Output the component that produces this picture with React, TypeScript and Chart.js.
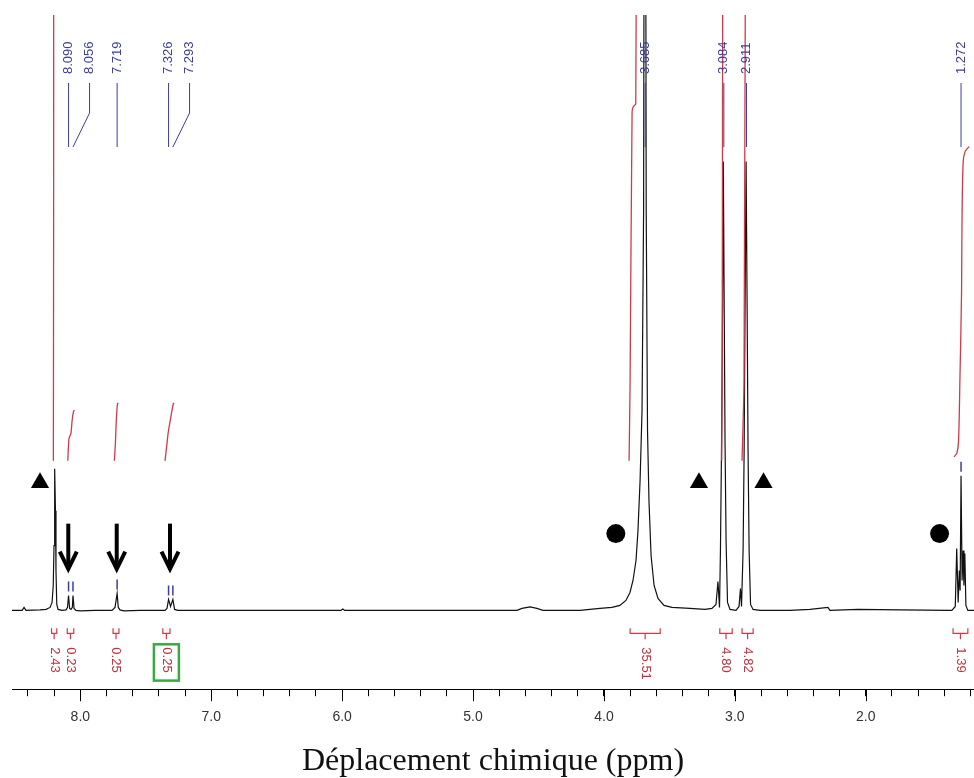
import React, { useEffect, useRef } from 'react';
import { Chart, registerables } from 'chart.js';

Chart.register(...registerables);

// ---------- DATA ----------
// 1H NMR trace: chemical shift (ppm) and intensity (a.u.)
const spectrumPpm = [
  8.522, 8.445, 8.43, 8.415, 8.308, 8.262, 8.231, 8.216, 8.207, 8.201, 8.196, 8.19, 8.186, 8.18, 8.17, 8.14,
  8.109, 8.098, 8.09, 8.082, 8.071, 8.061, 8.056, 8.048, 8.033, 8.002, 7.888, 7.758, 7.735, 7.719, 7.71, 7.697,
  7.666, 7.544, 7.353, 7.338, 7.326, 7.311, 7.293, 7.28, 7.254, 7.009, 6.01, 5.995, 5.98, 5.558, 4.664, 4.626,
  4.565, 4.512, 4.466, 4.183, 4.107, 4.03, 3.939, 3.878, 3.832, 3.801, 3.778, 3.755, 3.74, 3.724, 3.709, 3.697,
  3.687, 3.677, 3.667, 3.656, 3.64, 3.617, 3.587, 3.541, 3.48, 3.343, 3.228, 3.175, 3.144, 3.129, 3.117, 3.11,
  3.102, 3.094, 3.088, 3.081, 3.075, 3.067, 3.056, 3.037, 2.991, 2.968, 2.957, 2.949, 2.937, 2.929, 2.922, 2.914,
  2.906, 2.899, 2.891, 2.88, 2.861, 2.808, 2.579, 2.426, 2.289, 2.273, 2.059, 1.74, 1.358, 1.342, 1.316, 1.305,
  1.294, 1.285, 1.279, 1.272, 1.264, 1.256, 1.25, 1.243, 1.235, 1.22, 1.173,
];
const spectrumIntensity = [
  0, 0, 3, 0, 0.5, 1, 3, 8, 25, 65, 142, 100, 40, 6, 1, 0,
  0.5, 3, 15, 2, 1, 3, 15, 2, 0, -0.5, 0, 0, 3, 17, 3, 0.5,
  -0.5, 0, 0, 2, 11, 4, 11, 1, 0, 0, 0, 1.5, 0, 0, 0, 2,
  3.5, 2, 0, 0, 1, 2, 3, 5, 10, 18, 30, 50, 80, 130, 200, 400,
  1200, 400, 180, 110, 55, 25, 12, 5, 3, 2, 1, 2, 6, 29, 3, 60,
  160, 300, 450, 300, 170, 70, 8, 1, 0, 4, 22, 4, 60, 160, 300, 450,
  300, 160, 60, 6, 1, 0, 0, 1, 3, 0, 1, 0.5, 0, 0, 4, 62,
  8, 40, 20, 135, 30, 60, 25, 57, 5, 0, 0,
];

// Picked peaks
const peakPpm = [8.09, 8.056, 7.719, 7.326, 7.293, 3.685, 3.084, 2.911, 1.272];
const peakLabels = ['8.090', '8.056', '7.719', '7.326', '7.293', '3.685', '3.084', '2.911', '1.272'];
const peakPickIntensity = [15, 15, 17, 11, 11, 0, 0, 0, 135];

// Integrals
const integralFrom = [8.22, 8.1, 7.75, 7.37, 3.8, 3.115, 2.945, 1.333];
const integralTo = [8.18, 8.05, 7.705, 7.315, 3.57, 3.02, 2.86, 1.22];
const integralValues = ['2.43', '0.23', '0.25', '0.25', '35.51', '4.80', '4.82', '1.39'];
const highlightedIntegral = 3;

// Integral curves (ppm, height)
const integralCurvePpm = [
  [8.206, 8.204, 8.203],
  [8.096, 8.087, 8.079, 8.071, 8.063, 8.053, 8.046],
  [7.74, 7.732, 7.727, 7.721, 7.716, 7.711],
  [7.353, 7.34, 7.328, 7.315, 7.302, 7.29, 7.284],
  [3.808, 3.8, 3.785, 3.776, 3.757, 3.748],
  [3.1, 3.097, 3.09],
  [2.945, 2.93, 2.915],
  [1.326, 1.303, 1.291, 1.28, 1.268, 1.265, 1.256, 1.241, 1.211],
];
const integralCurveHeight = [
  [150, 400, 900],
  [150, 172, 175, 178, 190, 199, 201],
  [150, 168, 185, 200, 207, 208],
  [150, 165, 179, 189, 199, 207, 208],
  [150, 232, 500, 505, 508, 900],
  [150, 232, 900],
  [150, 232, 900],
  [154, 158, 170, 235, 320, 385, 449, 460, 465],
];

// Symbols placed on the spectrum
const trianglePpm = [8.308, 3.274, 2.781];
const triangleHeight = [128, 128, 128];
const circlePpm = [3.909, 1.436];
const circleHeight = [77, 77];
const arrowPpm = [8.092, 7.722, 7.315];
const arrowTopHeight = [87, 87, 87];
const arrowTipHeight = [40, 40, 40];

const xMin = 1.173;
const xMax = 8.522;
const yMin = -79;
const yMax = 597;

const BLUE = '#3d3d9c';
const RED = '#cf3a4b';
const RED_TEXT = '#c0303f';
const GREEN = '#3aa845';

const nmrPlugin = {
  id: 'nmrAnnotations',
  afterDatasetsDraw(chart: any) {
    const { ctx, chartArea } = chart;
    const xs = chart.scales.x;
    const ys = chart.scales.y;
    const top = chartArea.top;
    ctx.save();

    // Peak labels with connectors
    ctx.font = '13px "Liberation Sans", Arial, sans-serif';
    ctx.fillStyle = BLUE;
    ctx.strokeStyle = BLUE;
    ctx.lineWidth = 1;
    let prev = -Infinity;
    const labelX: number[] = [];
    peakPpm.forEach((p) => {
      const px = xs.getPixelForValue(p);
      const lx = Math.max(px, prev + 21);
      prev = lx;
      labelX.push(lx);
    });
    peakPpm.forEach((p, i) => {
      const px = xs.getPixelForValue(p);
      const lx = labelX[i];
      ctx.save();
      ctx.translate(lx, top + 59);
      ctx.rotate(-Math.PI / 2);
      ctx.textAlign = 'left';
      ctx.textBaseline = 'middle';
      ctx.fillText(peakLabels[i], 0, 0);
      ctx.restore();
      ctx.beginPath();
      ctx.moveTo(lx, top + 68);
      if (Math.abs(lx - px) > 0.5) ctx.lineTo(lx, top + 98);
      ctx.lineTo(px, top + 132);
      ctx.stroke();
      if (peakPickIntensity[i] > 0) {
        ctx.lineWidth = 1.5;
        ctx.beginPath();
        ctx.moveTo(px, ys.getPixelForValue(peakPickIntensity[i] + 4));
        ctx.lineTo(px, ys.getPixelForValue(peakPickIntensity[i] + 14));
        ctx.stroke();
        ctx.lineWidth = 1;
      }
    });

    // Integral brackets and values
    ctx.strokeStyle = RED;
    ctx.fillStyle = RED_TEXT;
    ctx.lineWidth = 1.2;
    integralFrom.forEach((f, i) => {
      const x1 = xs.getPixelForValue(f);
      const x2 = xs.getPixelForValue(integralTo[i]);
      const xc = (x1 + x2) / 2;
      const yEnd = ys.getPixelForValue(-18);
      const yBar = ys.getPixelForValue(-23);
      const yStem = ys.getPixelForValue(-29);
      const yLab = ys.getPixelForValue(-37);
      ctx.beginPath();
      ctx.moveTo(x1, yEnd);
      ctx.lineTo(x1, yBar);
      ctx.lineTo(x2, yBar);
      ctx.lineTo(x2, yEnd);
      ctx.moveTo(xc, yBar);
      ctx.lineTo(xc, yStem);
      ctx.stroke();
      ctx.save();
      ctx.translate(xc, yLab);
      ctx.rotate(Math.PI / 2);
      ctx.textAlign = 'left';
      ctx.textBaseline = 'middle';
      ctx.fillText(integralValues[i], 0, 0);
      const w = ctx.measureText(integralValues[i]).width;
      ctx.restore();
      if (i === highlightedIntegral) {
        ctx.save();
        ctx.strokeStyle = GREEN;
        ctx.lineWidth = 2.5;
        ctx.strokeRect(xc - 12.5, yLab - 3, 25, w + 11);
        ctx.restore();
      }
    });

    // Arrows
    ctx.strokeStyle = '#000';
    ctx.lineWidth = 4;
    ctx.lineJoin = 'miter';
    ctx.lineCap = 'butt';
    arrowPpm.forEach((p, i) => {
      const ax = xs.getPixelForValue(p);
      const yT = ys.getPixelForValue(arrowTopHeight[i]);
      const yP = ys.getPixelForValue(arrowTipHeight[i]);
      ctx.beginPath();
      ctx.moveTo(ax, yT);
      ctx.lineTo(ax, yP - 3);
      ctx.stroke();
      ctx.beginPath();
      ctx.moveTo(ax - 8.5, yP - 19);
      ctx.lineTo(ax, yP - 1.5);
      ctx.lineTo(ax + 8.5, yP - 19);
      ctx.stroke();
    });
    ctx.restore();
  },
  afterDraw(chart: any) {
    const { ctx, chartArea } = chart;
    const xs = chart.scales.x;
    ctx.save();
    ctx.strokeStyle = '#000';
    ctx.lineWidth = 1;
    for (let v = Math.ceil(xMin); v <= Math.floor(xMax); v++) {
      const px = Math.round(xs.getPixelForValue(v)) + 0.5;
      ctx.beginPath();
      ctx.moveTo(px, chartArea.bottom);
      ctx.lineTo(px, chartArea.bottom + 12);
      ctx.stroke();
    }
    ctx.restore();
  },
};

export default function App() {
  const canvasRef = useRef<HTMLCanvasElement>(null);

  useEffect(() => {
    document.body.style.margin = '0';
    const canvas = canvasRef.current;
    if (!canvas) return;

    const spectrum = spectrumPpm.map((p, i) => ({ x: p, y: spectrumIntensity[i] }));
    const integralSets = integralCurvePpm.map((arr, k) => ({
      type: 'line' as const,
      data: arr.map((p, i) => ({ x: p, y: integralCurveHeight[k][i] })),
      borderColor: RED,
      borderWidth: 1.3,
      pointRadius: 0,
      tension: 0.3,
      order: 2,
    }));

    const chart = new Chart(canvas, {
      type: 'line',
      data: {
        datasets: [
          {
            type: 'line',
            data: spectrum,
            borderColor: '#111',
            borderWidth: 1.2,
            pointRadius: 0,
            tension: 0,
            order: 3,
          },
          ...integralSets,
          {
            type: 'scatter',
            data: trianglePpm.map((p, i) => ({ x: p, y: triangleHeight[i] })),
            pointStyle: 'triangle',
            pointRadius: 10.5,
            backgroundColor: '#000',
            borderColor: '#000',
            borderWidth: 0,
            order: 1,
          },
          {
            type: 'scatter',
            data: circlePpm.map((p, i) => ({ x: p, y: circleHeight[i] })),
            pointStyle: 'circle',
            pointRadius: 9.5,
            backgroundColor: '#000',
            borderColor: '#000',
            borderWidth: 0,
            order: 1,
          },
        ] as any,
      },
      options: {
        animation: false,
        responsive: false,
        maintainAspectRatio: false,
        devicePixelRatio: 1,
        layout: { autoPadding: false, padding: { left: 12, right: 0, top: 15, bottom: 0 } },
        plugins: { legend: { display: false }, tooltip: { enabled: false } },
        scales: {
          x: {
            type: 'linear',
            min: xMin,
            max: xMax,
            reverse: true,
            border: { display: true, color: '#000', width: 1 },
            grid: { drawOnChartArea: false, drawTicks: true, tickLength: 7, color: '#000' },
            afterFit: (scale: any) => {
              scale.paddingLeft = 0;
              scale.paddingRight = 0;
            },
            ticks: {
              stepSize: 0.2,
              includeBounds: false,
              autoSkip: false,
              maxRotation: 0,
              padding: 13,
              color: '#333',
              font: { family: '"Liberation Sans", Arial, sans-serif', size: 14 },
              callback: (v: any) => {
                const n = Number(v);
                return Math.abs(n - Math.round(n)) < 1e-6 ? n.toFixed(1) : '';
              },
            },
            title: {
              display: true,
              text: 'Déplacement chimique (ppm)',
              color: '#111',
              font: { family: '"Liberation Serif", "Times New Roman", serif', size: 32, lineHeight: 1 },
              padding: { top: 7, bottom: 0 },
            },
          },
          y: { type: 'linear', display: false, min: yMin, max: yMax },
        },
      },
      plugins: [nmrPlugin],
    });
    return () => chart.destroy();
  }, []);

  return (
    <div style={{ position: 'fixed', left: 0, top: 0, width: 974, height: 778, background: '#fff' }}>
      <canvas ref={canvasRef} width={974} height={778} style={{ display: 'block', width: 974, height: 778 }} />
    </div>
  );
}
